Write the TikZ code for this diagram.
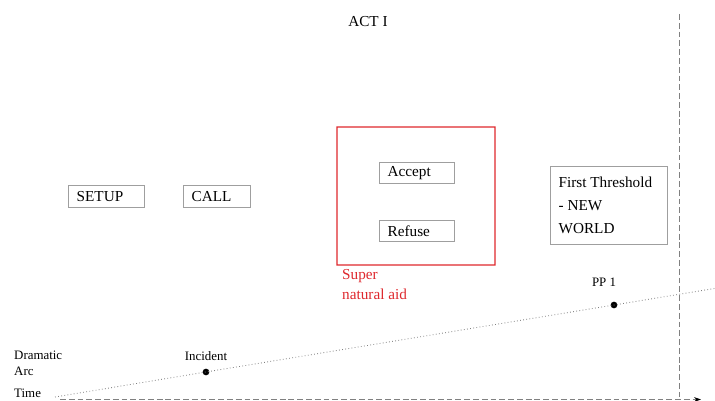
\documentclass[tikz,border=0pt]{standalone}
\usepackage{fontspec}
\setmainfont{Liberation Serif}
\usetikzlibrary{positioning,arrows.meta}
\definecolor{aidred}{RGB}{222,40,45}

\begin{document}
\begin{tikzpicture}[x=0.03cm,y=-0.03cm,>=Stealth]

	\tikzset{stagebox/.style={
				draw=gray!75,line width=0.6pt,
				inner xsep=0.25cm,inner ysep=0pt,
				align=flush left,anchor=north west,
				font=\fontsize{13}{15.5}\selectfont
			},
		smalllabel/.style={font=\fontsize{11}{13.5}\selectfont,align=flush left},
		plotdot/.style={circle,fill=black,inner sep=0pt,minimum size=0.2cm},
		guideline/.style={gray,line width=0.6pt,dash pattern=on 5pt off 2.5pt}
	}

	\useasboundingbox (0,0) rectangle (715,401);

	\node[font=\fontsize{13}{15.5}\selectfont] (act) at (368,22) {ACT I};

	% the stages
	\foreach \x/\y/\w/\h/\name/\txt in {68/185/2.28/0.66/setup/SETUP, 183/185/2.01/0.66/call/CALL, 379/162/2.25/0.63/accept/Accept, 379/220/2.25/0.63/refuse/Refuse} {
			\node[stagebox,text width=\w cm-0.5cm,minimum height=\h cm] (\name) at (\x,\y) {\txt};
		}

	% supernatural aid frame
	\coordinate (aidtl) at (336.4,126.4);
	\coordinate (aidbr) at (495.6,265.6);
	\coordinate (aidtlin) at (337.6,127.6);
	\coordinate (aidbrin) at (494.4,264.4);
	\fill[aidred,even odd rule] (aidtl) rectangle (aidbr) (aidtlin) rectangle (aidbrin);
	\node[anchor=north west,inner sep=0pt,text=aidred,align=flush left,font=\fontsize{13}{17.5}\selectfont] (aidlabel) at (342,269) {Super\\natural aid};

	\node[stagebox,text width=3.51cm-0.5cm,minimum height=2.34cm,font=\fontsize{13}{19.5}\selectfont] (threshold) at (550,166) {First Threshold\\- NEW\\WORLD};

	% dramatic arc
	\node[smalllabel,anchor=west,inner sep=0pt] (arclabel) at (14,363) {Dramatic\\Arc};
	\node[smalllabel,anchor=west,inner sep=0pt] (timelabel) at (14,393) {Time};

	\coordinate (arcstart) at (55,397);
	\coordinate (arcend) at (715,288.4);
	\node[plotdot] (incident) at (206,372) {};
	\node[plotdot] (pp) at (614,305) {};
	\node[smalllabel,above=0.12cm of incident] () {Incident};
	\node[smalllabel,above=0.33cm of pp,xshift=-0.3cm] () {PP 1};

	\draw[gray,dotted,line width=0.7pt] (arcstart) -- (incident.center) -- (pp.center) -- (arcend);

	% time and act border
	\coordinate (timestart) at (60,399.5);
	\coordinate (timeend) at (701,399.5);
	\coordinate (acttop) at (679,14);
	\coordinate (actbottom) at (679,397);
	\draw[guideline,-{Stealth[black,length=6pt,width=4pt]}] (timestart) -- (timeend);
	\draw[guideline] (acttop) -- (actbottom);
\end{tikzpicture}
\end{document}
